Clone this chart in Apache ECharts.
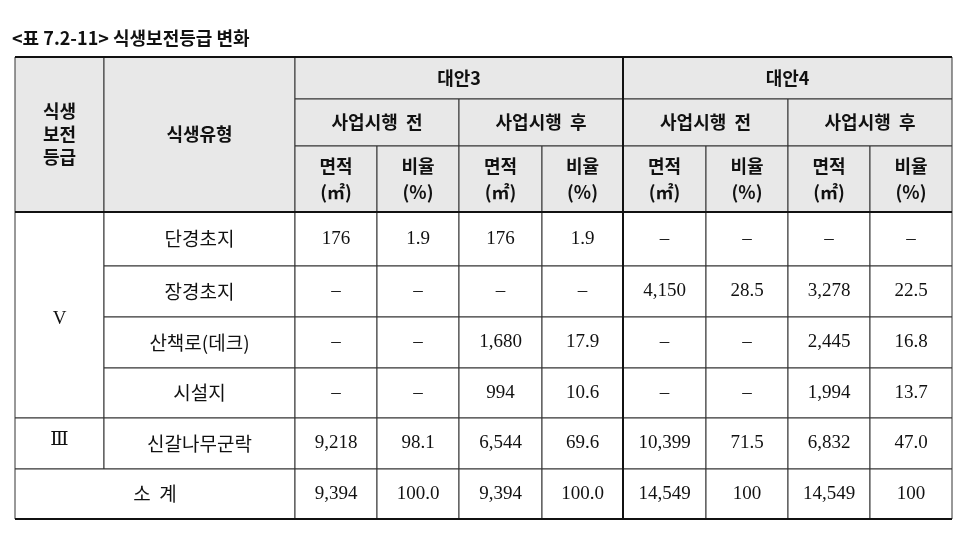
<!DOCTYPE html>
<html><head><meta charset="utf-8">
<script src="https://cdn.jsdelivr.net/npm/echarts@6/dist/echarts.min.js"></script>
<style>html,body{margin:0;background:#fff}#c{width:970px;height:537px}</style>
</head><body><div id="c"></div>
<script>
const title = '<표 7.2-11> 식생보전등급 변화';
const grades = ['V','V','V','V','Ⅲ'];
const types = ['단경초지','장경초지','산책로(데크)','시설지','신갈나무군락'];
const alt3BeforeArea = ['176','–','–','–','9,218','9,394'];
const alt3BeforeRatio = ['1.9','–','–','–','98.1','100.0'];
const alt3AfterArea = ['176','–','1,680','994','6,544','9,394'];
const alt3AfterRatio = ['1.9','–','17.9','10.6','69.6','100.0'];
const alt4BeforeArea = ['–','4,150','–','–','10,399','14,549'];
const alt4BeforeRatio = ['–','28.5','–','–','71.5','100'];
const alt4AfterArea = ['–','3,278','2,445','1,994','6,832','14,549'];
const alt4AfterRatio = ['–','22.5','16.8','13.7','47.0','100'];
const totalLabel = '소  계';

const X = [15,104,295,377,459,542,623,706,788,870,952];
const Y = [57,99,146,212,266,317,368,418,469,519];
const g = [];
const KR = '"Noto Sans CJK KR", sans-serif';
const SER = '"Liberation Serif", "DejaVu Serif", serif';
function cell(c0,c1,r0,r1,text,opt){
  opt = opt||{};
  g.push({type:'rect',shape:{x:X[c0],y:Y[r0],width:X[c1]-X[c0],height:Y[r1]-Y[r0]},
    style:{fill:opt.fill||'#fff',stroke:'#333',lineWidth:1}});
  g.push({type:'text',x:(X[c0]+X[c1])/2,y:(Y[r0]+Y[r1])/2+(opt.dy||0),
    style:{text:text,align:'center',verticalAlign:'middle',fill:'#111',
      font:(opt.bold?'bold ':'')+(opt.size||18)+'px '+(opt.font||KR),lineHeight:opt.lh||22}});
}
const H = '#e8e8e8';
cell(0,1,0,3,'식생\n보전\n등급',{fill:H,bold:1,lh:23});
cell(1,2,0,3,'식생유형',{fill:H,bold:1});
cell(2,6,0,1,'대안3',{fill:H,bold:1});
cell(6,10,0,1,'대안4',{fill:H,bold:1});
['사업시행  전','사업시행  후','사업시행  전','사업시행  후'].forEach((t,i)=>cell(2+2*i,4+2*i,1,2,t,{fill:H,bold:1}));
for(let i=0;i<4;i++){
  cell(2+2*i,3+2*i,2,3,'면적\n(㎡)',{fill:H,bold:1,lh:26});
  cell(3+2*i,4+2*i,2,3,'비율\n(%)',{fill:H,bold:1,lh:26});
}
cell(0,1,3,7,grades[0],{font:SER,size:19,dy:4});
cell(0,1,7,8,grades[4],{font:SER,size:19,dy:-3});
types.forEach((t,i)=>cell(1,2,3+i,4+i,t,{size:19}));
cell(0,2,8,9,totalLabel,{size:19});
const cols=[alt3BeforeArea,alt3BeforeRatio,alt3AfterArea,alt3AfterRatio,alt4BeforeArea,alt4BeforeRatio,alt4AfterArea,alt4AfterRatio];
cols.forEach((arr,ci)=>arr.forEach((v,ri)=>cell(2+ci,3+ci,3+ri,4+ri,v,{font:SER,size:19})));
[Y[0],Y[3],Y[9]].forEach(y=>g.push({type:'line',shape:{x1:X[0],y1:y,x2:X[10],y2:y},style:{stroke:'#111',lineWidth:2}}));
g.push({type:'line',shape:{x1:X[6],y1:Y[0],x2:X[6],y2:Y[9]},style:{stroke:'#111',lineWidth:2}});
g.push({type:'text',x:12,y:38,style:{text:title,font:'bold 18px '+KR,fill:'#111',verticalAlign:'middle'}});
const chart = echarts.init(document.getElementById('c'));
chart.setOption({animation:false,graphic:g});
</script></body></html>
